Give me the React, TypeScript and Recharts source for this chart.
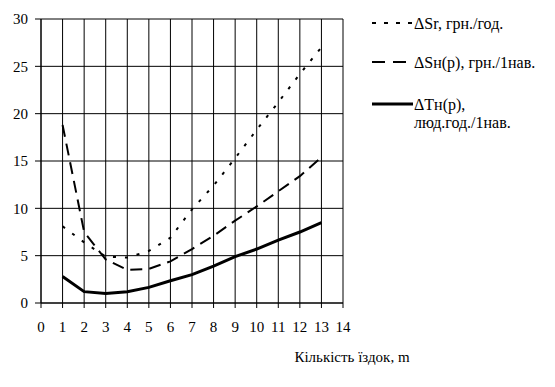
import React from 'react';
import { LineChart, Line, XAxis, YAxis, CartesianGrid, Legend } from 'recharts';

const trips = [1, 2, 3, 4, 5, 6, 7, 8, 9, 10, 11, 12, 13];
const deltaSr = [8.1, 6.4, 4.9, 4.8, 5.5, 6.9, 9.9, 12.4, 15.3, 18.3, 21.2, 24.2, 27.0];
const deltaSn = [18.8, 7.5, 4.6, 3.5, 3.6, 4.4, 5.7, 7.1, 8.7, 10.2, 11.8, 13.4, 15.4];
const deltaTn = [2.8, 1.2, 1.0, 1.2, 1.65, 2.35, 3.0, 3.9, 4.9, 5.7, 6.65, 7.5, 8.5];
const xTicks = [0, 1, 2, 3, 4, 5, 6, 7, 8, 9, 10, 11, 12, 13, 14];
const yTicks = [0, 5, 10, 15, 20, 25, 30];
const seriesNames = ['ΔSr, грн./год.', 'ΔSн(р), грн./1нав.', 'ΔTн(р),|люд.год./1нав.'];
const xTitle = 'Кількість їздок, m';

const data = trips.map((m, i) => ({ m, sr: deltaSr[i], sn: deltaSn[i], tn: deltaTn[i] }));

const FONT = "'Times New Roman', 'Liberation Serif', 'DejaVu Serif', serif";
const textStyle = { fontFamily: FONT };

const legendStyles: Record<string, { dash?: string; width: number; y: number }> = {
  sr: { dash: '4 8', width: 2, y: 23 },
  sn: { dash: '13 8', width: 2, y: 62 },
  tn: { width: 3, y: 104 },
};

const renderLegend = (props: any) => {
  const payload = props.payload || [];
  return (
    <svg width={195} height={140} style={{ display: 'block' }}>
      {payload.map((p: any) => {
        const st = legendStyles[p.dataKey];
        if (!st) return null;
        const lines = String(p.value).split('|');
        return (
          <g key={p.dataKey}>
            <line x1={12} x2={53} y1={st.y} y2={st.y} stroke="#000" strokeWidth={st.width} strokeDasharray={st.dash} />
            {lines.map((t, k) => (
              <text key={k} x={54} y={st.y + k * 18} dy="0.35em" style={textStyle} fontSize={16} fill="#000">
                {t}
              </text>
            ))}
          </g>
        );
      })}
    </svg>
  );
};

const XTitle = (props: any) => {
  const vb = props.viewBox || { x: 0, y: 0, width: 0 };
  return (
    <text x={vb.x + vb.width + 9} y={362} textAnchor="middle" style={textStyle} fontSize={15} fill="#000">
      {xTitle}
    </text>
  );
};

export default function App() {
  return (
    <div style={{ position: 'absolute', left: 0, top: 0, background: '#fff', fontFamily: FONT }}>
      <LineChart
        width={555}
        height={387}
        data={data}
        margin={{ top: 19, right: 212, left: 0, bottom: 14 }}
        style={{ fontFamily: FONT }}
      >
        <CartesianGrid stroke="#000" strokeWidth={1} verticalValues={xTicks} horizontalValues={yTicks} />
        <XAxis
          dataKey="m"
          type="number"
          domain={[0, 14]}
          ticks={xTicks}
          interval={0}
          height={70}
          stroke="#000"
          tickSize={5}
          tickMargin={13}
          tick={{ fill: '#000', fontSize: 15, style: textStyle }}
          tickLine={{ stroke: '#000' }}
          axisLine={{ stroke: '#000' }}
          label={<XTitle />}
        />
        <YAxis
          type="number"
          domain={[0, 30]}
          ticks={yTicks}
          interval={0}
          width={41}
          stroke="#000"
          tickSize={6}
          tickMargin={7}
          tick={{ fill: '#000', fontSize: 15, style: textStyle }}
          tickLine={{ stroke: '#000' }}
          axisLine={{ stroke: '#000' }}
        />
        <Legend
          layout="horizontal"
          align="center"
          verticalAlign="middle"
          wrapperStyle={{ left: 360, top: 0, width: 195, height: 140 }}
          content={renderLegend}
        />
        <Line
          dataKey="sr"
          name={seriesNames[0]}
          type="linear"
          stroke="#000"
          strokeWidth={2}
          strokeDasharray="3 9"
          dot={false}
          isAnimationActive={false}
        />
        <Line
          dataKey="sn"
          name={seriesNames[1]}
          type="linear"
          stroke="#000"
          strokeWidth={2}
          strokeDasharray="12 7"
          dot={false}
          isAnimationActive={false}
        />
        <Line
          dataKey="tn"
          name={seriesNames[2]}
          type="linear"
          stroke="#000"
          strokeWidth={3}
          dot={false}
          isAnimationActive={false}
        />
      </LineChart>
    </div>
  );
}
